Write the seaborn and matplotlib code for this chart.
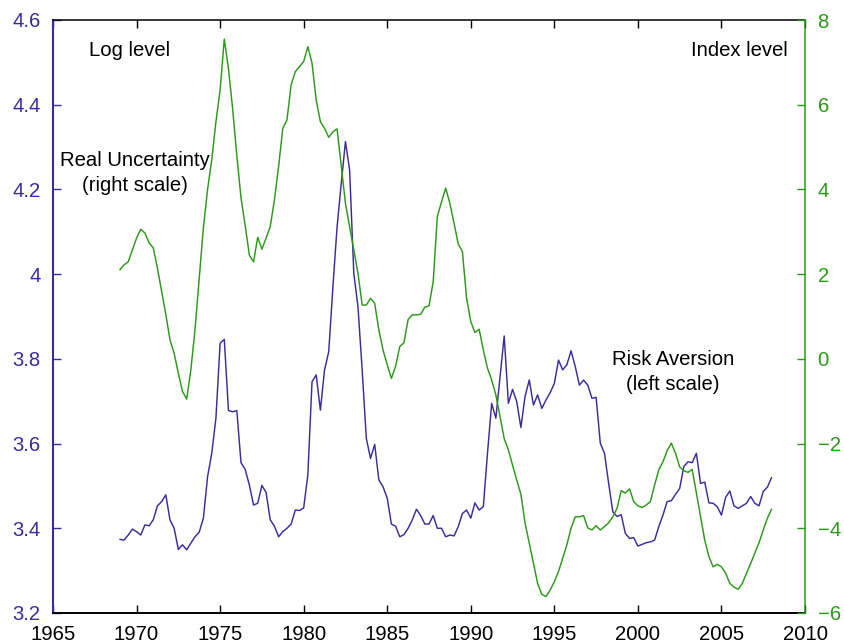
import matplotlib
matplotlib.use("Agg")
import matplotlib.pyplot as plt
import numpy as np
import pandas as pd
import seaborn as sns
from matplotlib.ticker import FuncFormatter

# Quarterly sample, 1969Q1 - 2008Q1
quarters = pd.period_range("1969Q1", "2008Q1", freq="Q")
years = np.asarray(quarters.year + (quarters.quarter - 1) / 4.0, dtype=float)

# Risk aversion, log level (left scale)
risk_aversion = [
    3.374, 3.372, 3.384, 3.398,   # 1969
    3.392, 3.384, 3.408, 3.406,   # 1970
    3.420, 3.453, 3.463, 3.479,   # 1971
    3.420, 3.400, 3.350, 3.361,   # 1972
    3.349, 3.365, 3.380, 3.391,   # 1973
    3.424, 3.522, 3.577, 3.660,   # 1974
    3.837, 3.846, 3.678, 3.675,   # 1975
    3.678, 3.555, 3.539, 3.502,   # 1976
    3.455, 3.459, 3.501, 3.485,   # 1977
    3.420, 3.405, 3.380, 3.392,   # 1978
    3.400, 3.410, 3.443, 3.442,   # 1979
    3.448, 3.526, 3.746, 3.762,   # 1980
    3.679, 3.774, 3.817, 3.970,   # 1981
    4.112, 4.214, 4.313, 4.246,   # 1982
    4.002, 3.923, 3.774, 3.612,   # 1983
    3.565, 3.598, 3.514, 3.498,   # 1984
    3.471, 3.410, 3.405, 3.380,   # 1985
    3.385, 3.400, 3.420, 3.445,   # 1986
    3.430, 3.410, 3.410, 3.430,   # 1987
    3.400, 3.400, 3.380, 3.384,   # 1988
    3.382, 3.404, 3.435, 3.443,   # 1989
    3.424, 3.460, 3.443, 3.451,   # 1990
    3.577, 3.695, 3.660, 3.758,   # 1991
    3.854, 3.695, 3.728, 3.699,   # 1992
    3.638, 3.712, 3.750, 3.691,   # 1993
    3.715, 3.683, 3.703, 3.720,   # 1994
    3.742, 3.797, 3.774, 3.786,   # 1995
    3.819, 3.782, 3.738, 3.750,   # 1996
    3.738, 3.707, 3.709, 3.601,   # 1997
    3.577, 3.506, 3.439, 3.428,   # 1998
    3.432, 3.388, 3.376, 3.378,   # 1999
    3.358, 3.362, 3.366, 3.368,   # 2000
    3.372, 3.404, 3.431, 3.463,   # 2001
    3.465, 3.480, 3.494, 3.546,   # 2002
    3.557, 3.555, 3.577, 3.506,   # 2003
    3.509, 3.460, 3.459, 3.451,   # 2004
    3.431, 3.473, 3.488, 3.453,   # 2005
    3.447, 3.453, 3.459, 3.475,   # 2006
    3.459, 3.453, 3.487, 3.497,   # 2007
    3.520,                        # 2008
]

# Real uncertainty, index level (right scale)
real_uncertainty = [
    2.10, 2.22, 2.29, 2.57,       # 1969
    2.85, 3.06, 2.97, 2.74,       # 1970
    2.62, 2.14, 1.60, 1.05,       # 1971
    0.45, 0.13, -0.34, -0.77,     # 1972
    -0.95, -0.26, 0.70, 1.90,     # 1973
    3.10, 4.00, 4.70, 5.60,       # 1974
    6.35, 7.55, 6.85, 5.90,       # 1975
    4.80, 3.80, 3.15, 2.45,       # 1976
    2.29, 2.87, 2.59, 2.85,       # 1977
    3.12, 3.75, 4.54, 5.44,       # 1978
    5.64, 6.47, 6.78, 6.90,       # 1979
    7.02, 7.37, 6.98, 6.11,       # 1980
    5.60, 5.44, 5.23, 5.36,       # 1981
    5.43, 4.54, 3.67, 3.12,       # 1982
    2.57, 2.02, 1.27, 1.27,       # 1983
    1.43, 1.31, 0.68, 0.21,       # 1984
    -0.14, -0.46, -0.18, 0.29,    # 1985
    0.38, 0.93, 1.04, 1.04,       # 1986
    1.05, 1.22, 1.25, 1.82,       # 1987
    3.36, 3.71, 4.03, 3.67,       # 1988
    3.20, 2.71, 2.53, 1.43,       # 1989
    0.88, 0.62, 0.70, 0.21,       # 1990
    -0.22, -0.50, -0.85, -1.36,   # 1991
    -1.88, -2.15, -2.51, -2.86,   # 1992
    -3.20, -3.88, -4.35, -4.83,   # 1993
    -5.30, -5.56, -5.61, -5.46,   # 1994
    -5.26, -5.02, -4.71, -4.39,   # 1995
    -4.00, -3.73, -3.73, -3.70,   # 1996
    -3.99, -4.04, -3.94, -4.04,   # 1997
    -3.96, -3.87, -3.73, -3.53,   # 1998
    -3.11, -3.17, -3.07, -3.37,   # 1999
    -3.47, -3.51, -3.45, -3.37,   # 2000
    -2.98, -2.62, -2.43, -2.17,   # 2001
    -1.99, -2.23, -2.55, -2.64,   # 2002
    -2.68, -2.61, -3.17, -3.73,   # 2003
    -4.28, -4.67, -4.91, -4.85,   # 2004
    -4.91, -5.06, -5.30, -5.39,   # 2005
    -5.44, -5.30, -5.06, -4.83,   # 2006
    -4.58, -4.34, -4.04, -3.76,   # 2007
    -3.55,                        # 2008
]

x_ticks = list(range(1965, 2011, 5))
left_ticks = [3.2, 3.4, 3.6, 3.8, 4.0, 4.2, 4.4, 4.6]
right_ticks = [-6, -4, -2, 0, 2, 4, 6, 8]

BLUE = "#3b2c9e"
GREEN = "#2a9a18"
FS = 14.6

sns.set_style("ticks")
plt.rcParams["font.family"] = ["Liberation Sans", "DejaVu Sans"]
plt.rcParams["axes.unicode_minus"] = True
plt.rcParams["text.color"] = "black"

df = pd.DataFrame({"year": years,
                   "risk": risk_aversion,
                   "unc": real_uncertainty})

fig = plt.figure(figsize=(8.44, 6.44), dpi=100)
ax = fig.add_axes([53 / 844, 1 - 613 / 644, (805 - 53) / 844, (613 - 20) / 644])
ax2 = ax.twinx()

sns.lineplot(data=df, x="year", y="risk", ax=ax, color=BLUE, linewidth=1.05)
sns.lineplot(data=df, x="year", y="unc", ax=ax2, color=GREEN, linewidth=1.05)

ax.set_xlim(1965, 2010)
ax.set_ylim(3.2, 4.6)
ax2.set_ylim(-6, 8)
ax.set_xticks(x_ticks)
ax.set_yticks(left_ticks)
ax2.set_yticks(right_ticks)
ax.yaxis.set_major_formatter(FuncFormatter(lambda v, p: f"{v:g}"))
ax2.yaxis.set_major_formatter(FuncFormatter(lambda v, p: f"{v:g}".replace("-", "\u2212")))

for a in (ax, ax2):
    a.set_xlabel("")
    a.set_ylabel("")

# spines: black top/bottom, coloured left/right
ax.spines["left"].set_color(BLUE)
ax.spines["left"].set_linewidth(1.5)
ax.spines["right"].set_visible(False)
ax.spines["top"].set_color("black")
ax.spines["bottom"].set_color("black")
ax.spines["top"].set_linewidth(1.1)
ax.spines["bottom"].set_linewidth(1.4)
for s in ("left", "top", "bottom"):
    ax2.spines[s].set_visible(False)
ax2.spines["right"].set_color(GREEN)
ax2.spines["right"].set_linewidth(1.1)

ax.tick_params(axis="x", direction="in", length=6, width=1.0, top=True,
               labelsize=FS, pad=9, colors="black")
ax.tick_params(axis="y", direction="in", length=6, width=1.0, labelsize=FS,
               pad=9, colors=BLUE, right=False)
ax2.tick_params(axis="y", direction="in", length=6, width=1.0, labelsize=FS,
                pad=9, colors=GREEN)

ax.text(1969.6, 4.529, "Log level", fontsize=FS, ha="center", va="center", color="black")
ax.text(2006.1, 4.529, "Index level", fontsize=FS, ha="center", va="center", color="black")
ax.text(1969.9, 4.239, "Real Uncertainty\n(right scale)", fontsize=FS,
        ha="center", va="center", linespacing=1.35, color="black")
ax.text(2002.1, 3.769, "Risk Aversion\n(left scale)", fontsize=FS,
        ha="center", va="center", linespacing=1.35, color="black")

fig.savefig("out.png", dpi=100)
